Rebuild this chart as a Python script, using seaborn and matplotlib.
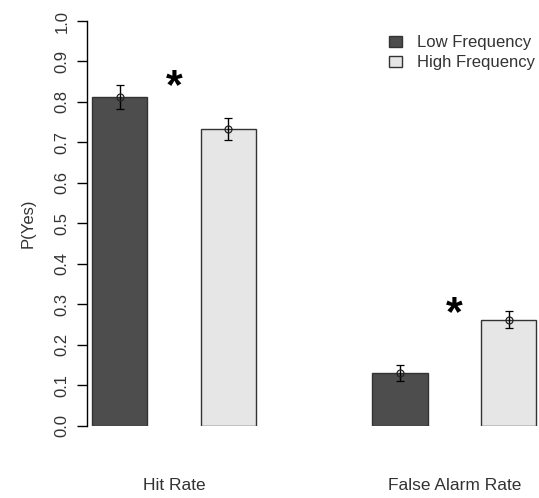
import matplotlib
matplotlib.use("Agg")
import matplotlib.pyplot as plt
import seaborn as sns
import pandas as pd
import numpy as np

categories = ["Hit Rate", "False Alarm Rate"]
groups = ["Low Frequency", "High Frequency"]
low_vals = [0.813, 0.130]
high_vals = [0.733, 0.262]
low_err = [0.030, 0.020]
high_err = [0.028, 0.021]
yticks = [0.0, 0.1, 0.2, 0.3, 0.4, 0.5, 0.6, 0.7, 0.8, 0.9, 1.0]
colors = ["#4d4d4d", "#e6e6e6"]

sns.set_style("white")
plt.rcParams["font.family"] = ["Liberation Sans", "DejaVu Sans"]

df = pd.DataFrame({
    "category": categories * 2,
    "group": [groups[0]] * 2 + [groups[1]] * 2,
    "value": low_vals + high_vals,
    "err": low_err + high_err,
})

fig = plt.figure(figsize=(5.39, 4.98), dpi=100)
ax = fig.add_axes([87 / 539, 72.3 / 498, 1 - 87 / 539, (425.7 - 21) / 498])

sns.barplot(data=df, x="category", y="value", hue="group", order=categories,
            hue_order=groups, palette=colors, width=0.775, gap=0.49,
            errorbar=None, edgecolor="#333333", linewidth=1.0, ax=ax)

# error bars at bar centres
for container, g in zip(ax.containers, groups):
    sub = df[df["group"] == g].set_index("category").loc[categories]
    xs = [p.get_x() + p.get_width() / 2 for p in container.patches]
    ax.errorbar(xs, sub["value"], yerr=sub["err"], fmt="o", mfc="none",
                mec="#222222", ms=5, mew=0.9, ecolor="black", elinewidth=1.0,
                capsize=3, capthick=1.0, zorder=5)

# significance asterisks
for i, c in enumerate(categories):
    sub = df[df["category"] == c]
    top = (sub["value"] + sub["err"]).max()
    ax.text(i, top - 0.006, "*", ha="center", va="center", fontsize=31,
            fontweight="bold", color="black")

ax.set_xlim(-0.31, 1.302)
ax.set_ylim(0, 1)
ax.set_yticks(yticks)
ax.set_yticklabels([f"{t:.1f}" for t in yticks], rotation=90, va="center",
                   fontsize=12, color="#333333")
ax.tick_params(axis="y", direction="out", length=7.5, width=1.0, pad=5,
               left=True, color="black")
ax.tick_params(axis="x", length=0, pad=38, labelsize=12.5, labelcolor="#333333")
ax.set_xlabel("")
ax.set_ylabel("P(Yes)", fontsize=12, color="#333333", labelpad=14)
for s in ["top", "right", "bottom"]:
    ax.spines[s].set_visible(False)
ax.spines["left"].set_color("black")
ax.spines["left"].set_linewidth(1.0)
ax.spines["left"].set_bounds(0, 1)

leg = ax.legend(loc="upper left", bbox_to_anchor=(389 / 539, 1 - 35 / 498),
                bbox_transform=fig.transFigure, frameon=False, fontsize=12,
                handlelength=0.8, handleheight=0.65, handletextpad=0.9,
                labelspacing=0.32, borderpad=0, borderaxespad=0)
for t in leg.get_texts():
    t.set_color("#333333")

fig.savefig("out.png", dpi=100)
